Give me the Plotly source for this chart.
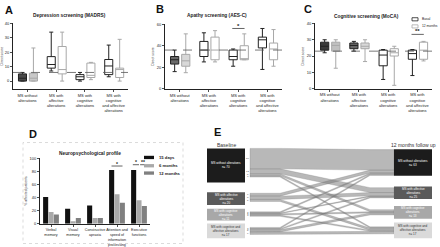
import plotly.graph_objects as go

W, H = 440, 247
FONT = "Liberation Sans"

# ---------------- data ----------------
groups = ["MS without<br>alterations", "MS with<br>affective<br>alterations",
          "MS with<br>cognitive<br>alterations", "MS with<br>cognitive<br>and affective<br>alterations"]

# Panel A - MADRS
madrs_basal_low = [0, 7, 0, 3]
madrs_basal_q1 = [0, 9, 1, 4.5]
madrs_basal_med = [2, 11.5, 3, 10.5]
madrs_basal_q3 = [5, 17, 4.5, 15]
madrs_basal_high = [6, 34, 6, 25]
madrs_12m_low = [0, 0, 1, 0]
madrs_12m_q1 = [0, 5, 2.5, 2.5]
madrs_12m_med = [2, 8, 4, 8]
madrs_12m_q3 = [5.5, 24, 12.5, 9]
madrs_12m_high = [23, 34, 13, 29]
madrs_cutoff = 6

# Panel B - AES-C
aes_basal_low = [16, 25, 21, 18]
aes_basal_q1 = [23, 30, 27, 38]
aes_basal_med = [27, 36, 30, 45.5]
aes_basal_q3 = [30, 44, 36, 48]
aes_basal_high = [36, 52, 37, 56]
aes_12m_low = [15, 25, 27, 21]
aes_12m_q1 = [21, 27, 27, 27]
aes_12m_med = [26, 36, 28, 37]
aes_12m_q3 = [32, 48, 40, 42.5]
aes_12m_high = [51, 54, 51, 55]
aes_cutoff = 36

# Panel C - MoCA
moca_basal_low = [22, 23, 5.6, 8]
moca_basal_q1 = [23.6, 24.5, 14, 18]
moca_basal_med = [26, 26.5, 20.6, 21.5]
moca_basal_q3 = [28.5, 28, 23.6, 23.6]
moca_basal_high = [30, 29, 24, 24]
moca_12m_low = [12.5, 16.6, 2, 17]
moca_12m_q1 = [23, 24.5, 20, 18]
moca_12m_med = [26.5, 26, 22, 23.6]
moca_12m_q3 = [28.5, 28, 24.5, 28.5]
moca_12m_high = [30, 30, 26, 29]
moca_cutoff = 23

# Panel D - neuropsychological profile
domains = ["Verbal<br>memory", "Visual<br>memory", "Constructive<br>apraxia",
           "Attention and<br>speed of<br>information<br>processing", "Executive<br>functions"]
pct_15d = [41, 23, 28, 82, 82]
pct_6m = [18, 4, 9, 45, 36]
pct_12m = [14, 9, 9, 32, 27]

# Panel E - transitions baseline -> 12 months
states = ["MS without alterations", "MS with affective<br>alterations",
          "MS with cognitive<br>alterations", "MS with cognitive and<br>affective alterations"]
flows = [[50, 12, 5, 3],
         [7, 8, 0, 5],
         [3, 2, 3, 3],
         [3, 3, 5, 6]]

# ---------------- figure ----------------
fig = go.Figure()

def px_x(v):
    return v / W

def px_y(v):
    return 1 - v / H

def add_panel(xa, ya, basal, m12, fills_b, fills_m):
    for series, off, col, fills in ((basal, 0.33, "#222222", fills_b), (m12, 0.71, "#a8a8a8", fills_m)):
        low, q1, med, q3, high = series
        for i in range(4):
            fig.add_trace(go.Box(
                x=[i + off], lowerfence=[low[i]], q1=[q1[i]], median=[med[i]],
                q3=[q3[i]], upperfence=[high[i]], width=0.28,
                line=dict(color=col, width=1), fillcolor=fills[i],
                whiskerwidth=0.5, boxpoints=False, hoverinfo="skip",
                xaxis=xa, yaxis=ya, showlegend=False))

add_panel("x", "y",
          (madrs_basal_low, madrs_basal_q1, madrs_basal_med, madrs_basal_q3, madrs_basal_high),
          (madrs_12m_low, madrs_12m_q1, madrs_12m_med, madrs_12m_q3, madrs_12m_high),
          ["#4a4a4a", "white", "white", "white"], ["#c8c8c8", "white", "white", "white"])
add_panel("x2", "y2",
          (aes_basal_low, aes_basal_q1, aes_basal_med, aes_basal_q3, aes_basal_high),
          (aes_12m_low, aes_12m_q1, aes_12m_med, aes_12m_q3, aes_12m_high),
          ["#6a6a6a", "white", "white", "white"], ["#d8d8d8", "white", "white", "white"])
add_panel("x3", "y3",
          (moca_basal_low, moca_basal_q1, moca_basal_med, moca_basal_q3, moca_basal_high),
          (moca_12m_low, moca_12m_q1, moca_12m_med, moca_12m_q3, moca_12m_high),
          ["#3a3a3a", "#666666", "white", "white"], ["#c0c0c0", "#d8d8d8", "white", "white"])

# bars D
for vals, col in ((pct_15d, "#111111"), (pct_6m, "#a9a9a9"), (pct_12m, "#808080")):
    fig.add_trace(go.Bar(x=list(range(5)), y=vals, marker=dict(color=col, line=dict(width=0)),
                         xaxis="x4", yaxis="y4", showlegend=False, hoverinfo="skip"))

# ---------------- panel E (transition diagram) ----------------
base_box_y = [(149, 184), (194, 207), (211, 223), (226, 241)]
foll_box_y = [(150, 177), (188, 201), (208, 221), (225, 241)]
base_box_x = (207, 245)
foll_box_x = (394, 432)
box_fill = ["#1c1c1c", "#5a5a5a", "#a8a8a8", "#dadada"]
box_txt = ["white", "white", "white", "#333333"]
scale = 0.42
base_tot = [sum(r) for r in flows]
foll_tot = [sum(flows[i][j] for i in range(4)) for j in range(4)]
base_start = [149, 195, 214, 230]
foll_start = [(foll_box_y[j][0] + foll_box_y[j][1]) / 2 - foll_tot[j] * scale / 2 for j in range(4)]
if foll_start[0] < foll_box_y[0][0]:
    foll_start[0] = foll_box_y[0][0]

xs = [250, 280, 370, 394]
base_cur = list(base_start)
bands = []
for i in range(4):
    for j in range(4):
        v = flows[i][j]
        if v <= 0:
            continue
        h = v * scale
        y0 = base_cur[i]
        base_cur[i] += h
        bands.append((i, j, v, y0, h))
foll_offsets = {}
for j in range(4):
    cur = foll_start[j]
    for i in range(4):
        v = flows[i][j]
        if v <= 0:
            continue
        foll_offsets[(i, j)] = cur
        cur += v * scale

for (i, j, v, y0, h) in bands:
    y1 = foll_offsets[(i, j)]
    px = [xs[0], xs[1], xs[2], xs[3], xs[3], xs[2], xs[1], xs[0], xs[0]]
    py = [y0, y0, y1, y1, y1 + h, y1 + h, y0 + h, y0 + h, y0]
    fig.add_trace(go.Scatter(x=px, y=py, mode="lines", fill="toself",
                             fillcolor="rgba(125,125,125,0.55)", line=dict(width=0.4, color="rgba(110,110,110,0.6)"),
                             xaxis="x5", yaxis="y5", showlegend=False, hoverinfo="skip"))

for k in range(4):
    for (bx, by, tot) in ((base_box_x, base_box_y[k], base_tot[k]), (foll_box_x, foll_box_y[k], foll_tot[k])):
        fig.add_trace(go.Scatter(x=[bx[0], bx[1], bx[1], bx[0], bx[0]],
                                 y=[by[0], by[0], by[1], by[1], by[0]],
                                 mode="lines", fill="toself", fillcolor=box_fill[k],
                                 line=dict(width=0), xaxis="x5", yaxis="y5",
                                 showlegend=False, hoverinfo="skip"))

annotations = []
shapes = []

def ann(x, y, text, size, color="#222222", bold=False, xanchor="center", textangle=0, xref="paper", yref="paper"):
    t = f"<b>{text}</b>" if bold else text
    annotations.append(dict(x=x, y=y, xref=xref, yref=yref, text=t, showarrow=False,
                            xanchor=xanchor, yanchor="middle", textangle=textangle,
                            font=dict(size=size, color=color, family=FONT)))

for k in range(4):
    for (bx, by, tot) in ((base_box_x, base_box_y[k], base_tot[k]), (foll_box_x, foll_box_y[k], foll_tot[k])):
        ann((bx[0] + bx[1]) / 2, (by[0] + by[1]) / 2, f"{states[k]}<br>n= {tot}", 3,
            color=box_txt[k], xref="x5", yref="y5")

for (i, j, v, y0, h) in bands:
    ann(247.5, y0 + h / 2, str(v), 2.5, color="#555555", xref="x5", yref="y5")

ann(px_x(227), px_y(146), "Baseline", 5, color="#333333")
ann(px_x(413), px_y(146), "12 months follow up", 5, color="#333333")

# panel letters and titles
for letter, x, y in (("A", 9, 7), ("B", 160, 6), ("C", 308, 6), ("D", 33, 134), ("E", 217, 132)):
    ann(px_x(x), px_y(y), letter, 11, color="#111111", bold=True)
ann(px_x(69), px_y(12.7), "Depression screening (MADRS)", 4.8, bold=True)
ann(px_x(217), px_y(12.7), "Apathy screening (AES-C)", 4.8, bold=True)
ann(px_x(366), px_y(14), "Cognitive screening (MoCA)", 4.8, bold=True)
ann(px_x(90), px_y(154), "Neuropsychological profile", 4.8, bold=True)

# cutoff lines
for xa, ya, c in (("x", "y", madrs_cutoff), ("x2", "y2", aes_cutoff), ("x3", "y3", moca_cutoff)):
    shapes.append(dict(type="line", xref=xa, yref=ya, x0=0, x1=4, y0=c, y1=c,
                       line=dict(color="#555555", width=0.8, dash="dash")))

# significance marks
shapes.append(dict(type="line", xref="x2", yref="y2", x0=2.3, x1=2.72, y0=56, y1=56, line=dict(color="#222", width=0.7)))
ann(2.51, 58.3, "*", 6, bold=True, xref="x2", yref="y2")
shapes.append(dict(type="line", xref="x3", yref="y3", x0=3.3, x1=3.72, y0=33.3, y1=33.3, line=dict(color="#222", width=0.7)))
ann(3.51, 35.3, "**", 6, bold=True, xref="x3", yref="y3")
shapes.append(dict(type="line", xref="x4", yref="y4", x0=2.75, x1=3.25, y0=88, y1=88, line=dict(color="#222", width=0.7)))
ann(3.0, 91.5, "*", 5, bold=True, xref="x4", yref="y4")
shapes.append(dict(type="line", xref="x4", yref="y4", x0=3.72, x1=4.0, y0=90, y1=90, line=dict(color="#222", width=0.7)))
shapes.append(dict(type="line", xref="x4", yref="y4", x0=4.05, x1=4.28, y0=90, y1=90, line=dict(color="#222", width=0.7)))
ann(3.86, 93.5, "*", 5, bold=True, xref="x4", yref="y4")
ann(4.17, 93.5, "**", 5, bold=True, xref="x4", yref="y4")

# legend C
for yy, col, txt in ((16.7, "#222222", "Basal"), (24, "#a8a8a8", "12 months")):
    shapes.append(dict(type="rect", xref="paper", yref="paper", x0=px_x(412), x1=px_x(418),
                       y0=px_y(yy + 1.6), y1=px_y(yy - 1.6), line=dict(color=col, width=0.8), fillcolor="white"))
    ann(px_x(420), px_y(yy), txt, 3.3, xanchor="left")

# legend D
for yy, col, txt in ((158.3, "#111111", "15 days"), (166.8, "#a9a9a9", "6 months"), (174.3, "#808080", "12 months")):
    shapes.append(dict(type="rect", xref="paper", yref="paper", x0=px_x(144), x1=px_x(154),
                       y0=px_y(yy + 1.7), y1=px_y(yy - 1.7), line=dict(width=0), fillcolor=col))
    ann(px_x(157), px_y(yy), txt, 4.2, bold=True, xanchor="left")

# dashed frame D
shapes.append(dict(type="rect", xref="paper", yref="paper", x0=px_x(23), x1=px_x(183),
                   y0=px_y(246.5), y1=px_y(143), line=dict(color="#cccccc", width=0.7, dash="dot")))

axis_common = dict(showline=True, linecolor="#222222", linewidth=1, ticks="outside", ticklen=2,
                   tickwidth=0.8, tickcolor="#222222", showgrid=False, zeroline=False,
                   tickfont=dict(size=4, family=FONT, color="#222222"))
xcat = dict(axis_common, range=[0, 4], tickvals=[0.5, 1.5, 2.5, 3.5], ticktext=groups, tickangle=0,
            tickfont=dict(size=4, family=FONT, color="#222222"))
ytitle = dict(text="Direct score", font=dict(size=3.5, family=FONT, color="#444"), standoff=2)

fig.update_layout(
    width=W, height=H, margin=dict(l=0, r=0, t=0, b=0),
    paper_bgcolor="white", plot_bgcolor="rgba(0,0,0,0)",
    boxmode="overlay", barmode="group", bargap=0.27, bargroupgap=0.05,
    showlegend=False,
    xaxis=dict(xcat, domain=[px_x(13), px_x(128)], anchor="y"),
    yaxis=dict(axis_common, domain=[px_y(88), px_y(21)], range=[-5.4, 40], tickvals=[0, 10, 20, 30, 40],
               anchor="x", title=ytitle),
    xaxis2=dict(xcat, domain=[px_x(165), px_x(282)], anchor="y2"),
    yaxis2=dict(axis_common, domain=[px_y(88), px_y(21.7)], range=[0, 60], tickvals=[0, 20, 40, 60],
                anchor="x2", title=ytitle),
    xaxis3=dict(xcat, domain=[px_x(315), px_x(432)], anchor="y3"),
    yaxis3=dict(axis_common, domain=[px_y(87.7), px_y(21)], range=[0, 40], tickvals=[0, 10, 20, 30, 40],
                anchor="x3", title=ytitle),
    xaxis4=dict(axis_common, domain=[px_x(40), px_x(150)], anchor="y4", range=[-0.5, 4.5],
                tickvals=list(range(5)), ticktext=domains, tickangle=0,
                tickfont=dict(size=3.7, family=FONT, color="#222222")),
    yaxis4=dict(axis_common, domain=[px_y(226.3), px_y(159)], range=[0, 100],
                tickvals=[0, 20, 40, 60, 80, 100], anchor="x4",
                title=dict(text="% affected patients", font=dict(size=3.5, family=FONT, color="#444"), standoff=2)),
    xaxis5=dict(domain=[0, 1], range=[0, W], visible=False, anchor="y5", fixedrange=True),
    yaxis5=dict(domain=[0, 1], range=[H, 0], visible=False, anchor="x5", fixedrange=True),
    annotations=annotations, shapes=shapes,
)

fig.write_html("out.html", config={"displayModeBar": False, "staticPlot": True},
               post_script="document.body.style.margin='0';document.body.style.padding='0';")
